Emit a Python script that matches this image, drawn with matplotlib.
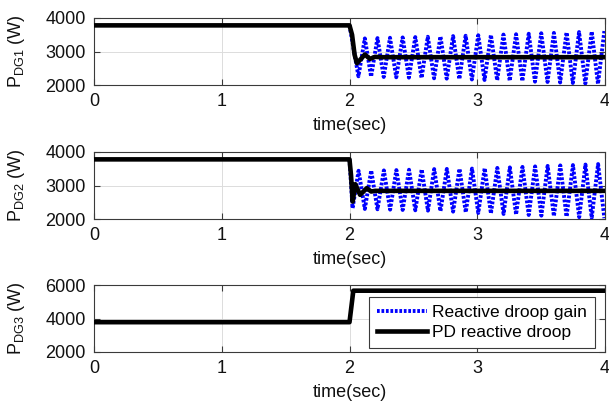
import matplotlib
matplotlib.use("Agg")
import matplotlib.pyplot as plt

plt.rcParams['font.family'] = ['Liberation Sans', 'DejaVu Sans']
plt.rcParams['mathtext.default'] = 'regular'

# ---------------- data ----------------
x_ticks = [0, 1, 2, 3, 4]
y_ticks_12 = [2000, 3000, 4000]
y_ticks_3 = [2000, 4000, 6000]
ylabels = [r'P$_{\mathregular{DG1}}$ (W)', r'P$_{\mathregular{DG2}}$ (W)', r'P$_{\mathregular{DG3}}$ (W)']
xlabel = 'time(sec)'
legend_labels = ['Reactive droop gain', 'PD reactive droop']

# PD reactive droop (black)
pd1_t = [0, 2.0, 2.02, 2.04, 2.058, 2.09, 2.12, 2.16, 2.2, 2.25, 4.0]
pd1_v = [3780, 3780, 3500, 2900, 2650, 2780, 2910, 2780, 2840, 2830, 2830]
pd2_t = [0, 2.0, 2.012, 2.025, 2.045, 2.083, 2.135, 2.17, 2.2, 4.0]
pd2_v = [3780, 3780, 3300, 2520, 3040, 2720, 2920, 2820, 2840, 2840]
pd3_t = [0, 2.0, 2.03, 4.0]
pd3_v = [3780, 3780, 5660, 5660]

# Reactive droop gain (blue) - extrema
# (before t = 2 s it coincides with the black curve and is hidden)
rg1_t = [2.0,
         2.070, 2.120, 2.169, 2.219, 2.268, 2.317, 2.366, 2.416, 2.465, 2.515,
         2.564, 2.613, 2.662, 2.712, 2.761, 2.811, 2.860, 2.909, 2.958, 3.008,
         3.057, 3.107, 3.156, 3.205, 3.254, 3.304, 3.353, 3.403, 3.452, 3.501,
         3.550, 3.600, 3.649, 3.699, 3.748, 3.797, 3.846, 3.896, 3.945, 3.995]
rg1_v = [3780,
         2260, 3390, 2250, 3400, 2240, 3410, 2230, 3420, 2220, 3430,
         2210, 3440, 2200, 3450, 2190, 3460, 2175, 3470, 2165, 3485,
         2150, 3495, 2140, 3505, 2125, 3515, 2115, 3530, 2100, 3545,
         2090, 3555, 2075, 3570, 2060, 3580, 2045, 3595, 2035, 3610]
rg2_t = [2.0,
         2.024, 2.071, 2.120, 2.170, 2.219, 2.269, 2.318, 2.367, 2.416, 2.466,
         2.515, 2.565, 2.614, 2.663, 2.712, 2.762, 2.811, 2.861, 2.910, 2.959,
         3.008, 3.058, 3.107, 3.157, 3.206, 3.255, 3.304, 3.354, 3.403, 3.453,
         3.502, 3.551, 3.600, 3.650, 3.699, 3.749, 3.798, 3.847, 3.896, 3.946,
         3.995]
rg2_v = [3780,
         2320, 3440, 2300, 3445, 2290, 3450, 2280, 3460, 2270, 3470,
         2260, 3480, 2250, 3490, 2235, 3495, 2220, 3500, 2200, 3505,
         2180, 3515, 2165, 3525, 2150, 3540, 2135, 3555, 2120, 3570,
         2100, 3585, 2085, 3600, 2070, 3610, 2055, 3625, 2040, 3640,
         2025]
rg3_t = []
rg3_v = []

# ---------------- figure ----------------
W, H = 609, 403
fig = plt.figure(figsize=(W / 100, H / 100), dpi=100)

left = 94 / W
width = (605 - 94) / W
panels = [(18, 85), (152, 219), (285, 352)]

series = [(rg1_t, rg1_v, pd1_t, pd1_v, y_ticks_12),
          (rg2_t, rg2_v, pd2_t, pd2_v, y_ticks_12),
          (rg3_t, rg3_v, pd3_t, pd3_v, y_ticks_3)]

spine_col = '#3a3a3a'
for i, ((top, bot), (rt, rv, pt, pv, yt)) in enumerate(zip(panels, series)):
    ax = fig.add_axes([left, 1 - bot / H, width, (bot - top) / H])
    lb, = ax.plot(rt, rv, color='#0000ff', lw=2.8, ls=(0, (0.7, 0.45)),
                  label=legend_labels[0], zorder=3)
    lk, = ax.plot(pt, pv, color='black', lw=3.3, label=legend_labels[1],
                  zorder=4, solid_joinstyle='round')
    ax.set_xlim(x_ticks[0], x_ticks[-1])
    ax.set_ylim(yt[0], yt[-1])
    ax.set_xticks(x_ticks)
    ax.set_yticks(yt)
    ax.grid(True, color='#dcdcdc', lw=0.7)
    ax.set_axisbelow(True)
    ax.tick_params(direction='in', length=4, width=0.8, colors=spine_col,
                   labelcolor='#111111', labelsize=13, top=True, right=True,
                   pad=6)
    for s in ax.spines.values():
        s.set_color(spine_col)
        s.set_linewidth(0.8)
    ax.set_xlabel(xlabel, fontsize=13, labelpad=5, color='#111111')
    ax.set_ylabel(ylabels[i], fontsize=13, labelpad=13, color='#111111')
    if i == 2:
        leg = ax.legend(handles=[lb, lk], loc='upper right',
                        bbox_to_anchor=(0.980, 0.821), borderaxespad=0,
                        fontsize=12.5, fancybox=False, handlelength=2.9,
                        handletextpad=0.3, labelspacing=0.3, borderpad=0.45,
                        framealpha=1)
        leg.get_frame().set_edgecolor(spine_col)
        leg.get_frame().set_linewidth(0.8)

fig.savefig('out.png', dpi=100)
